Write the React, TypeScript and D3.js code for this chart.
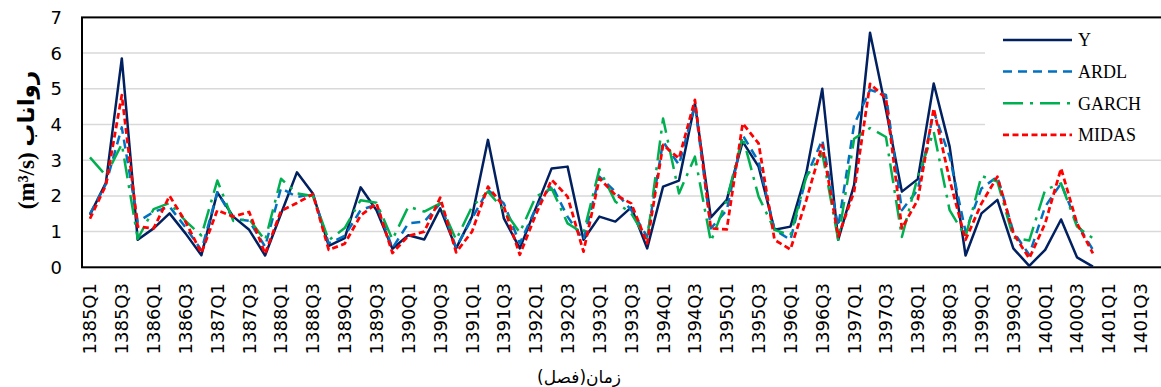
import React from "react";
import * as d3 from "d3";

const years = d3.range(1385, 1402);
const quarters = ["Q1", "Q2", "Q3", "Q4"];
const categories: string[] = years.flatMap((y) => quarters.map((q) => `${y}${q}`));
const tickLabels: string[] = categories.filter((_, i) => i % 2 === 0);
const yTicks = [0, 1, 2, 3, 4, 5, 6, 7];

const seriesY = [1.47, 2.37, 5.85, 0.77, 1.09, 1.51, 0.95, 0.34, 2.1, 1.42, 1.05, 0.33, 1.5, 2.66, 2.07, 0.6,
  0.82, 2.24, 1.6, 0.52, 0.9, 0.78, 1.65, 0.53, 1.42, 3.57, 1.37, 0.53, 1.65, 2.77, 2.82, 0.77,
  1.42, 1.28, 1.68, 0.53, 2.26, 2.43, 4.59, 1.4, 1.89, 3.52, 2.82, 1.05, 1.14, 2.65, 5.0, 0.77,
  2.31, 6.57, 4.41, 2.12, 2.47, 5.15, 3.38, 0.33, 1.51, 1.89, 0.53, 0.04, 0.49, 1.34, 0.28, 0.02];
const seriesARDL = [1.5, 2.33, 3.92, 1.28, 1.55, 1.7, 1.12, 0.48, 2.1, 1.36, 1.3, 0.58, 2.22, 1.97, 2.05, 0.67,
  0.88, 1.6, 1.76, 0.54, 1.23, 1.28, 1.79, 0.56, 1.37, 2.17, 1.79, 0.67, 1.65, 2.31, 1.42, 0.77,
  2.54, 2.12, 1.6, 0.86, 3.52, 2.87, 4.55, 1.09, 1.6, 3.7, 2.96, 1.05, 0.77, 2.54, 3.57, 1.14,
  4.0, 4.97, 4.83, 1.6, 2.17, 4.36, 3.1, 1.0, 2.21, 2.54, 1.0, 0.35, 1.7, 2.35, 1.23, 0.49];
const seriesGARCH = [3.08, 2.57, 3.45, 0.8, 1.63, 1.8, 1.3, 0.89, 2.43, 1.3, 1.35, 0.75, 2.48, 2.07, 2.0, 0.76,
  1.1, 1.88, 1.81, 0.78, 1.7, 1.56, 1.79, 0.77, 1.7, 2.12, 1.6, 0.97, 1.98, 2.21, 1.23, 0.95,
  2.75, 1.84, 1.51, 0.77, 4.17, 2.07, 3.1, 0.72, 1.89, 3.66, 1.98, 1.05, 0.9, 2.54, 3.19, 0.77,
  3.6, 3.9, 3.65, 0.85, 2.54, 3.8, 1.6, 0.86, 2.56, 2.4, 0.83, 0.75, 2.17, 2.35, 1.14, 0.81];
const seriesMIDAS = [1.36, 2.3, 4.82, 1.14, 1.09, 2.0, 1.28, 0.4, 1.6, 1.42, 1.55, 0.38, 1.58, 1.8, 2.05, 0.49,
  0.66, 1.45, 1.79, 0.4, 0.88, 1.0, 1.95, 0.42, 1.0, 2.26, 1.7, 0.35, 1.47, 2.45, 1.98, 0.44,
  2.49, 2.03, 1.79, 0.67, 3.43, 3.05, 4.69, 1.09, 1.06, 4.03, 3.47, 0.77, 0.5, 1.89, 3.43, 0.86,
  2.12, 5.14, 4.73, 1.09, 1.89, 4.45, 2.45, 0.77, 1.79, 2.54, 0.95, 0.25, 1.23, 2.77, 1.23, 0.39];

const seriesNames = ["Y", "ARDL", "GARCH", "MIDAS"];
const seriesValues = [seriesY, seriesARDL, seriesGARCH, seriesMIDAS];
const seriesStyles = [
  { color: "#002060", dash: "", width: 2.5 },
  { color: "#0070C0", dash: "9 6", width: 2.5 },
  { color: "#00B050", dash: "20 7 3 7", width: 2.5 },
  { color: "#FF0000", dash: "6 3.5", width: 2.75 },
];

export default function App() {
  const W = 1161, H = 387;
  const left = 82, top = 17.4, bottom = 267.3;
  const step = 15.92;
  const x = d3.scaleBand<string>().domain(categories).range([left, left + step * categories.length]).padding(0);
  const y = d3.scaleLinear().domain([0, 7]).range([bottom, top]);
  const cx = (c: string) => (x(c) as number) + x.bandwidth() / 2;
  const right = left + step * categories.length;

  const line = d3
    .line<number>()
    .x((_, i) => cx(categories[i]))
    .y((d) => y(d));

  const legendX = 1003, legendY0 = 40, legendStep = 31.6;

  return (
    <svg width={W} height={H} style={{ position: "absolute", left: 0, top: 0, background: "#fff" }}>
      <rect x={0} y={0} width={W} height={H} fill="#fff" />
      {yTicks.filter((t) => t > 0 && t < 7).map((t) => (
        <line key={t} x1={left} x2={right} y1={y(t)} y2={y(t)} stroke="#D9D9D9" strokeWidth={1.5} />
      ))}
      <rect x={left} y={top} width={right - left} height={bottom - top} fill="none" stroke="#000" strokeWidth={2} />
      {yTicks.map((t) => (
        <text key={t} x={62} y={y(t)} dy="0.36em" textAnchor="end" fontFamily="DejaVu Sans" fontSize={18} fill="#000">
          {t}
        </text>
      ))}
      {tickLabels.map((c) => (
        <text
          key={c}
          transform={`translate(${cx(c)},283) rotate(-90)`}
          dy="0.36em"
          textAnchor="end"
          fontFamily="DejaVu Sans"
          fontSize={18}
          fill="#000"
        >
          {c}
        </text>
      ))}
      {seriesValues.map((vals, k) => (
        <path
          key={seriesNames[k]}
          d={line(vals) || ""}
          fill="none"
          stroke={seriesStyles[k].color}
          strokeWidth={seriesStyles[k].width}
          strokeDasharray={seriesStyles[k].dash || undefined}
          strokeLinejoin="round"
        />
      ))}
      <rect x={985} y={20} width={180} height={132} fill="#fff" />
      {seriesNames.map((n, k) => (
        <g key={n}>
          <line
            x1={legendX}
            x2={legendX + 69}
            y1={legendY0 + k * legendStep}
            y2={legendY0 + k * legendStep}
            stroke={seriesStyles[k].color}
            strokeWidth={seriesStyles[k].width}
            strokeDasharray={seriesStyles[k].dash || undefined}
          />
          <text x={1078} y={legendY0 + k * legendStep} dy="0.35em" fontFamily="Liberation Serif" fontSize={18} fill="#000">
            {n}
          </text>
        </g>
      ))}
      <text
        transform={`translate(26,140) rotate(-90)`}
        dy="0.35em"
        textAnchor="middle"
        fontFamily="Liberation Serif, DejaVu Sans"
        fontWeight="bold"
        fontSize={23}
        fill="#000"
      >
        (m³/s) رواناب
      </text>
      <text x={579} y={377} dy="0.35em" textAnchor="middle" fontFamily="DejaVu Sans" fontSize={17} fill="#000">
        {"\u200Fزمان(فصل)\u200F"}
      </text>
    </svg>
  );
}
